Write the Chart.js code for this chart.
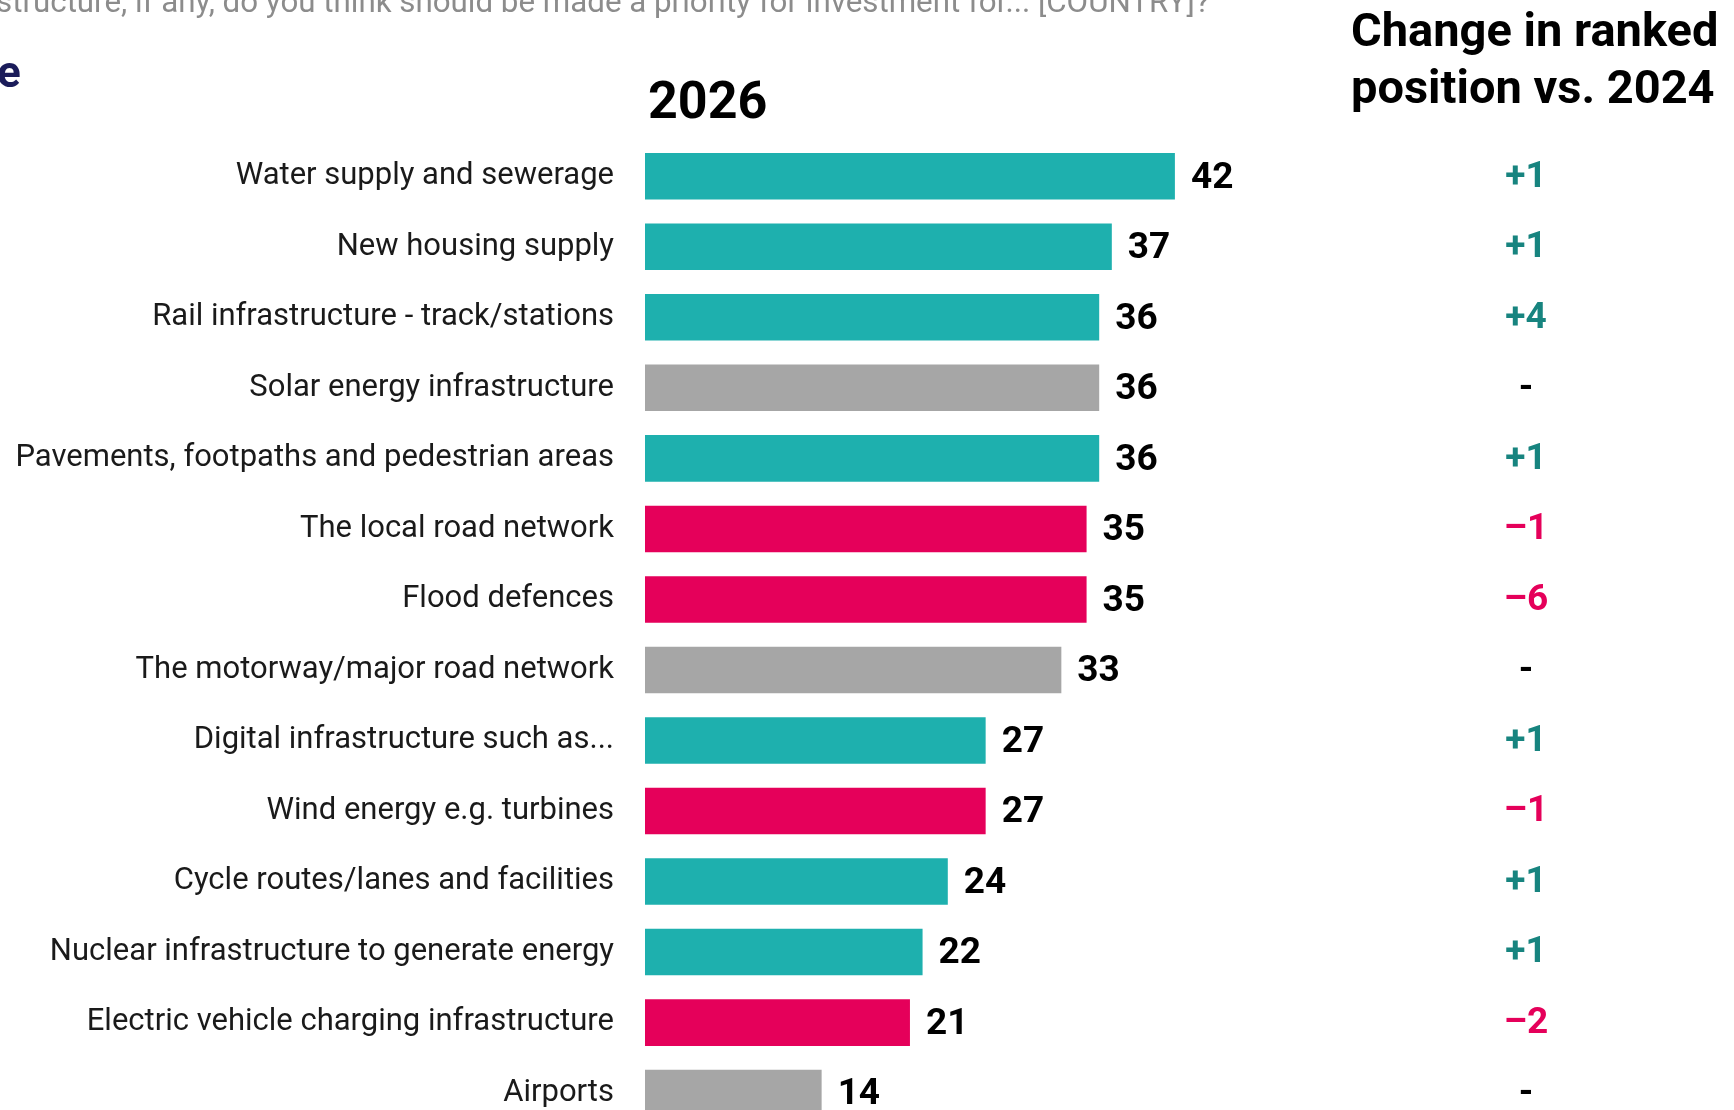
<!DOCTYPE html>
<html>
<head>
<meta charset="utf-8">
<script src="https://cdn.jsdelivr.net/npm/chart.js@4.4.1/dist/chart.umd.min.js"></script>
<style>
  html, body { margin: 0; padding: 0; background: #fff; overflow: hidden; width: 1734px; height: 1110px; }
  #chart { position: absolute; left: 0; top: 0; }
  .txt { position: absolute; font-family: Roboto, "Noto Sans", sans-serif; white-space: nowrap; }
  #question { left: -4px; top: -17px; font-size: 31.3px; color: #8c8c8c; }
  #navy { left: -3px; top: 46px; font-size: 44px; font-weight: 700; color: #1b1c5a; }
  #year { left: 648px; top: 70px; font-size: 52px; font-weight: 700; color: #000; }
  #change { left: 1351px; top: 1px; font-size: 47px; font-weight: 700; color: #000; line-height: 57px; }
</style>
</head>
<body>
<canvas id="chart" width="1734" height="1178"></canvas>
<div class="txt" id="question">structure, if any, do you think should be made a priority for investment for... [COUNTRY]?</div>
<div class="txt" id="navy">e</div>
<div class="txt" id="year">2026</div>
<div class="txt" id="change">Change in ranked<br>position vs. 2024</div>
<script>
// Data
const categories = [
  "Water supply and sewerage",
  "New housing supply",
  "Rail infrastructure - track/stations",
  "Solar energy infrastructure",
  "Pavements, footpaths and pedestrian areas",
  "The local road network",
  "Flood defences",
  "The motorway/major road network",
  "Digital infrastructure such as...",
  "Wind energy e.g. turbines",
  "Cycle routes/lanes and facilities",
  "Nuclear infrastructure to generate energy",
  "Electric vehicle charging infrastructure",
  "Airports"
];
const values2026 = [42, 37, 36, 36, 36, 35, 35, 33, 27, 27, 24, 22, 21, 14];
const rankChange = [1, 1, 4, 0, 1, -1, -6, 0, 1, -1, 1, 1, -2, 0];

// Colours
const TEAL = "#1eb0ae";
const PINK = "#e5005a";
const GREY = "#a6a6a6";
const TEAL_TEXT = "#17847f";

const barColor = (c) => c > 0 ? TEAL : (c < 0 ? PINK : GREY);
const changeText = (c) => c > 0 ? "+" + c : (c < 0 ? "\u2013" + Math.abs(c) : "-");
const changeColor = (c) => c > 0 ? TEAL_TEXT : (c < 0 ? PINK : "#000");

const labelsPlugin = {
  id: "labelsPlugin",
  afterDatasetsDraw(chart) {
    const ctx = chart.ctx;
    const meta = chart.getDatasetMeta(0);
    ctx.save();
    ctx.textBaseline = "middle";
    ctx.font = "bold 37px Roboto, sans-serif";
    meta.data.forEach((bar, i) => {
      // value at bar end
      ctx.fillStyle = "#000";
      ctx.textAlign = "left";
      ctx.fillText(values2026[i], bar.x + 16, bar.y + 2);
      // rank change column
      ctx.fillStyle = changeColor(rankChange[i]);
      ctx.textAlign = "center";
      ctx.fillText(changeText(rankChange[i]), 1526, bar.y + 1);
    });
    ctx.restore();
  }
};

const ctx = document.getElementById("chart").getContext("2d");
new Chart(ctx, {
  type: "bar",
  data: {
    labels: categories,
    datasets: [{
      data: values2026,
      backgroundColor: rankChange.map(barColor),
      borderWidth: 0,
      barPercentage: 0.66,
      categoryPercentage: 1.0
    }]
  },
  options: {
    indexAxis: "y",
    responsive: false,
    animation: false,
    layout: { padding: { top: 141, bottom: 22, left: 0, right: 332 } },
    plugins: {
      legend: { display: false },
      tooltip: { enabled: false }
    },
    scales: {
      x: { display: false, min: 0, max: 60 },
      y: {
        grid: { display: false, drawTicks: false },
        border: { display: false },
        afterFit: (scale) => { scale.width = 645; },
        ticks: {
          padding: 31,
          color: "#1a1a1a",
          font: { family: "Roboto, sans-serif", size: 31 }
        }
      }
    }
  },
  plugins: [labelsPlugin]
});
</script>
</body>
</html>
